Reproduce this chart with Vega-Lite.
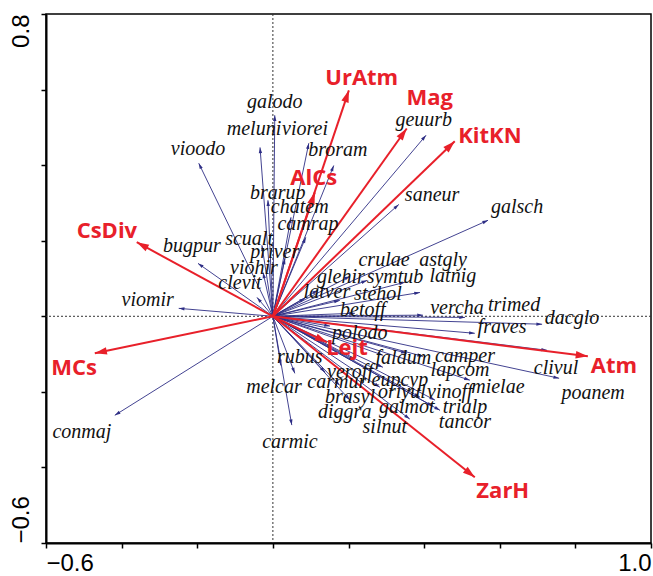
{
  "$schema": "https://vega.github.io/schema/vega-lite/v6.json",
  "width": 605,
  "height": 529,
  "autosize": {"type": "none"},
  "padding": {"left": 46, "top": 14, "right": 2, "bottom": 33},
  "background": "white",
  "config": {
    "view": {"stroke": "black", "strokeWidth": 1.5},
    "axis": {"grid": false, "domainColor": "black", "domainWidth": 2, "tickColor": "black", "tickWidth": 1.5, "tickSize": 5, "labelFont": "Liberation Sans", "labelFontSize": 24, "labelColor": "black", "title": null}
  },
  "data": {"values": [{"zero": 0}]},
  "datasets": {
    "env": [
      {"name": "UrAtm", "x": 0.201, "y": 0.598, "lx": 0.235, "ly": 0.630},
      {"name": "Mag", "x": 0.354, "y": 0.497, "lx": 0.415, "ly": 0.579},
      {"name": "KitKN", "x": 0.481, "y": 0.463, "lx": 0.574, "ly": 0.476},
      {"name": "AlCs", "x": 0.111, "y": 0.328, "lx": 0.108, "ly": 0.365},
      {"name": "CsDiv", "x": -0.360, "y": 0.196, "lx": -0.439, "ly": 0.225},
      {"name": "MCs", "x": -0.471, "y": -0.098, "lx": -0.526, "ly": -0.138},
      {"name": "Atm", "x": 0.833, "y": -0.106, "lx": 0.902, "ly": -0.132},
      {"name": "ZarH", "x": 0.534, "y": -0.426, "lx": 0.608, "ly": -0.463},
      {"name": "Lejt", "x": 0.143, "y": -0.069, "lx": 0.196, "ly": -0.085}
    ],
    "spp": [
      {"name": "vioodo", "x": -0.196, "y": 0.405, "lx": -0.198, "ly": 0.444},
      {"name": "galodo", "x": 0.005, "y": 0.532, "lx": 0.005, "ly": 0.566},
      {"name": "meluni", "x": -0.034, "y": 0.447, "lx": -0.050, "ly": 0.495},
      {"name": "viorei", "x": 0.095, "y": 0.458, "lx": 0.085, "ly": 0.495},
      {"name": "broram", "x": 0.161, "y": 0.399, "lx": 0.172, "ly": 0.439},
      {"name": "brarup", "x": -0.013, "y": 0.307, "lx": 0.013, "ly": 0.325},
      {"name": "chatem", "x": 0.048, "y": 0.262, "lx": 0.071, "ly": 0.288},
      {"name": "camrap", "x": 0.087, "y": 0.209, "lx": 0.093, "ly": 0.243},
      {"name": "scualt", "x": -0.029, "y": 0.188, "lx": -0.063, "ly": 0.204},
      {"name": "priver", "x": 0.032, "y": 0.153, "lx": 0.005, "ly": 0.169},
      {"name": "viohir", "x": -0.026, "y": 0.116, "lx": -0.050, "ly": 0.127},
      {"name": "clevit", "x": -0.042, "y": 0.050, "lx": -0.087, "ly": 0.087},
      {"name": "bugpur", "x": -0.198, "y": 0.140, "lx": -0.214, "ly": 0.185},
      {"name": "viomir", "x": -0.249, "y": 0.021, "lx": -0.331, "ly": 0.042},
      {"name": "conmaj", "x": -0.418, "y": -0.262, "lx": -0.505, "ly": -0.307},
      {"name": "rubus", "x": 0.058, "y": -0.151, "lx": 0.071, "ly": -0.108},
      {"name": "melcar", "x": 0.021, "y": -0.130, "lx": 0.003, "ly": -0.188},
      {"name": "carmic", "x": 0.050, "y": -0.288, "lx": 0.045, "ly": -0.333},
      {"name": "geuurb", "x": 0.405, "y": 0.479, "lx": 0.399, "ly": 0.519},
      {"name": "saneur", "x": 0.333, "y": 0.296, "lx": 0.421, "ly": 0.320},
      {"name": "galsch", "x": 0.569, "y": 0.254, "lx": 0.646, "ly": 0.288},
      {"name": "crulae", "x": 0.249, "y": 0.095, "lx": 0.294, "ly": 0.148},
      {"name": "astgly", "x": 0.349, "y": 0.090, "lx": 0.450, "ly": 0.148},
      {"name": "latnig", "x": 0.389, "y": 0.063, "lx": 0.476, "ly": 0.106},
      {"name": "glehir", "x": 0.119, "y": 0.069, "lx": 0.180, "ly": 0.103},
      {"name": "symtub", "x": 0.204, "y": 0.106, "lx": 0.323, "ly": 0.103},
      {"name": "latver", "x": 0.085, "y": 0.048, "lx": 0.143, "ly": 0.063},
      {"name": "stehol", "x": 0.177, "y": 0.042, "lx": 0.278, "ly": 0.058},
      {"name": "betoff", "x": 0.217, "y": 0.008, "lx": 0.238, "ly": 0.016},
      {"name": "vercha", "x": 0.397, "y": 0.003, "lx": 0.487, "ly": 0.021},
      {"name": "trimed", "x": 0.508, "y": -0.003, "lx": 0.638, "ly": 0.029},
      {"name": "dacglo", "x": 0.712, "y": -0.021, "lx": 0.791, "ly": -0.005},
      {"name": "fraves", "x": 0.534, "y": -0.045, "lx": 0.606, "ly": -0.029},
      {"name": "polodo", "x": 0.151, "y": -0.026, "lx": 0.230, "ly": -0.045},
      {"name": "camper", "x": 0.397, "y": -0.106, "lx": 0.508, "ly": -0.106},
      {"name": "lapcom", "x": 0.354, "y": -0.098, "lx": 0.495, "ly": -0.143},
      {"name": "faldum", "x": 0.291, "y": -0.103, "lx": 0.345, "ly": -0.111},
      {"name": "veroff", "x": 0.217, "y": -0.116, "lx": 0.204, "ly": -0.148},
      {"name": "eupcyp", "x": 0.291, "y": -0.135, "lx": 0.336, "ly": -0.169},
      {"name": "carmur", "x": 0.138, "y": -0.148, "lx": 0.169, "ly": -0.175},
      {"name": "brasyl", "x": 0.177, "y": -0.183, "lx": 0.204, "ly": -0.214},
      {"name": "oriyul", "x": 0.283, "y": -0.188, "lx": 0.341, "ly": -0.201},
      {"name": "vinoff", "x": 0.429, "y": -0.222, "lx": 0.468, "ly": -0.201},
      {"name": "mielae", "x": 0.521, "y": -0.169, "lx": 0.595, "ly": -0.188},
      {"name": "diggra", "x": 0.204, "y": -0.222, "lx": 0.190, "ly": -0.254},
      {"name": "galmot", "x": 0.423, "y": -0.238, "lx": 0.354, "ly": -0.241},
      {"name": "trialp", "x": 0.389, "y": -0.214, "lx": 0.508, "ly": -0.241},
      {"name": "tancor", "x": 0.442, "y": -0.249, "lx": 0.508, "ly": -0.280},
      {"name": "silnut", "x": 0.362, "y": -0.272, "lx": 0.296, "ly": -0.294},
      {"name": "poanem", "x": 0.725, "y": -0.090, "lx": 0.847, "ly": -0.204},
      {"name": "clivul", "x": 0.757, "y": -0.164, "lx": 0.749, "ly": -0.138}
    ]
  },
  "layer": [
    {
      "mark": {"type": "rule", "color": "#333333", "strokeWidth": 1, "strokeDash": [2, 2]},
      "encoding": {
        "x": {"field": "zero", "type": "quantitative", "scale": {"domain": [-0.6, 1.0], "nice": false, "zero": false},
          "axis": {"values": [-0.6, -0.4, -0.2, 0, 0.2, 0.4, 0.6, 0.8, 1.0], "labelExpr": "datum.value < -0.59 || datum.value > 0.99 ? format(datum.value, '.1f') : ''", "labelAlign": {"condition": {"test": "datum.value > 0.99", "value": "right"}, "value": "left"}, "labelPadding": 3}}
      }
    },
    {
      "mark": {"type": "rule", "color": "#333333", "strokeWidth": 1, "strokeDash": [2, 2]},
      "encoding": {
        "y": {"field": "zero", "type": "quantitative", "scale": {"domain": [-0.6, 0.8], "nice": false, "zero": false},
          "axis": {"values": [-0.6, -0.4, -0.2, 0, 0.2, 0.4, 0.6, 0.8], "labelExpr": "datum.value < -0.59 || datum.value > 0.79 ? format(datum.value, '.1f') : ''", "labelAngle": -90, "labelBaseline": "bottom", "labelAlign": {"condition": {"test": "datum.value > 0.79", "value": "right"}, "value": "left"}, "labelPadding": 8}}
      }
    },
    {
      "data": {"name": "spp"},
      "transform": [{"calculate": "0", "as": "o"}],
      "mark": {"type": "rule", "color": "#2e2e85", "strokeWidth": 0.9},
      "encoding": {
        "x": {"field": "o", "type": "quantitative"},
        "y": {"field": "o", "type": "quantitative"},
        "x2": {"field": "x"},
        "y2": {"field": "y"}
      }
    },
    {
      "data": {"name": "spp"},
      "transform": [{"calculate": "atan2(datum.x, datum.y) * 180 / PI", "as": "ang"}],
      "mark": {"type": "point", "shape": "M0,0L-0.5,1.7L0.5,1.7Z", "filled": true, "color": "#2e2e85", "opacity": 1, "size": 45},
      "encoding": {
        "x": {"field": "x", "type": "quantitative"},
        "y": {"field": "y", "type": "quantitative"},
        "angle": {"field": "ang", "type": "quantitative", "scale": null}
      }
    },
    {
      "data": {"name": "env"},
      "transform": [{"calculate": "0", "as": "o"}],
      "mark": {"type": "rule", "color": "#e8202a", "strokeWidth": 2},
      "encoding": {
        "x": {"field": "o", "type": "quantitative"},
        "y": {"field": "o", "type": "quantitative"},
        "x2": {"field": "x"},
        "y2": {"field": "y"}
      }
    },
    {
      "data": {"name": "env"},
      "transform": [{"calculate": "atan2(datum.x, datum.y) * 180 / PI", "as": "ang"}],
      "mark": {"type": "point", "shape": "M0,0L-0.5,1.6L0.5,1.6Z", "filled": true, "color": "#e8202a", "opacity": 1, "size": 230},
      "encoding": {
        "x": {"field": "x", "type": "quantitative"},
        "y": {"field": "y", "type": "quantitative"},
        "angle": {"field": "ang", "type": "quantitative", "scale": null}
      }
    },
    {
      "data": {"name": "spp"},
      "mark": {"type": "text", "font": "Liberation Serif", "fontStyle": "italic", "fontSize": 20, "color": "#111111", "align": "center", "baseline": "middle"},
      "encoding": {
        "x": {"field": "lx", "type": "quantitative"},
        "y": {"field": "ly", "type": "quantitative"},
        "text": {"field": "name"}
      }
    },
    {
      "data": {"name": "env"},
      "mark": {"type": "text", "font": "Open Sans", "fontWeight": "bold", "fontSize": 22, "color": "#e8202a", "align": "center", "baseline": "middle"},
      "encoding": {
        "x": {"field": "lx", "type": "quantitative"},
        "y": {"field": "ly", "type": "quantitative"},
        "text": {"field": "name"}
      }
    }
  ]
}
